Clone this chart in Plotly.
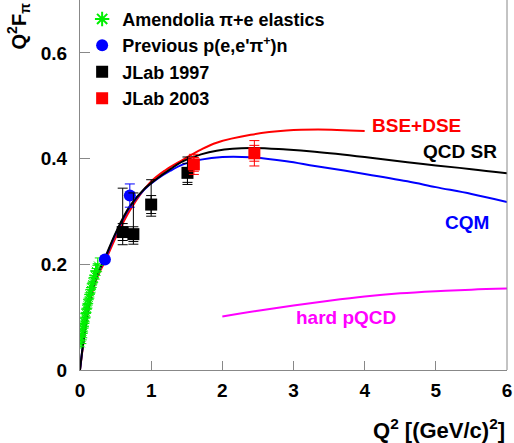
import plotly.graph_objects as go

# ---------------- data ----------------
amen_q2 = [0.014, 0.020, 0.026, 0.032, 0.038, 0.044, 0.050, 0.056, 0.062, 0.068,
           0.074, 0.080, 0.086, 0.092, 0.098, 0.104, 0.110, 0.118, 0.126, 0.134,
           0.142, 0.150, 0.160, 0.170, 0.180, 0.192, 0.205, 0.220, 0.235, 0.250]
amen_f = [0.050, 0.057, 0.061, 0.069, 0.072, 0.079, 0.082, 0.088, 0.091, 0.098,
          0.100, 0.107, 0.109, 0.115, 0.117, 0.123, 0.126, 0.133, 0.136, 0.143,
          0.146, 0.152, 0.156, 0.163, 0.166, 0.174, 0.179, 0.188, 0.186, 0.198]
amen_err = [0.006, 0.006, 0.006, 0.007, 0.007, 0.007, 0.007, 0.008, 0.008, 0.008,
            0.008, 0.008, 0.009, 0.009, 0.009, 0.009, 0.010, 0.010, 0.010, 0.010,
            0.011, 0.011, 0.011, 0.012, 0.012, 0.012, 0.013, 0.013, 0.014, 0.014]

prev_q2 = [0.35, 0.70]
prev_f = [0.209, 0.330]
prev_err = [0.004, 0.022]

j97_q2 = [0.60, 0.75, 1.00, 1.51]
j97_f = [0.261, 0.257, 0.313, 0.373]
j97_up = [0.083, 0.078, 0.047, 0.030]
j97_dn = [0.024, 0.019, 0.022, 0.022]
j97_stat = [0.016, 0.014, 0.017, 0.018]

j03_q2 = [1.60, 2.45]
j03_f = [0.389, 0.410]
j03_tot = [0.019, 0.024]
j03_stat = [0.013, 0.015]

bse_q2 = [0, 0.04, 0.10, 0.15, 0.25, 0.35, 0.50, 0.70, 0.98, 1.20, 1.45, 1.70, 1.92, 2.40, 2.90, 3.35, 4.00]
bse_f = [0, 0.043, 0.100, 0.135, 0.178, 0.205, 0.250, 0.302, 0.354, 0.378, 0.398, 0.417, 0.430, 0.445, 0.453, 0.455, 0.452]

qcd_q2 = [0, 0.04, 0.10, 0.15, 0.25, 0.35, 0.50, 0.70, 0.90, 1.07, 1.27, 1.45, 1.70, 1.92, 2.40, 2.90, 3.30, 4.00, 4.60, 5.00, 5.50, 6.00]
qcd_f = [0, 0.046, 0.106, 0.141, 0.184, 0.212, 0.259, 0.310, 0.342, 0.361, 0.380, 0.395, 0.408, 0.415, 0.420, 0.417, 0.413, 0.403, 0.393, 0.387, 0.380, 0.372]

cqm_q2 = [0, 0.04, 0.10, 0.15, 0.25, 0.35, 0.50, 0.70, 0.90, 1.07, 1.27, 1.45, 1.70, 2.00, 2.40, 2.90, 3.30, 4.00, 4.60, 5.00, 5.50, 6.00]
cqm_f = [0, 0.046, 0.105, 0.140, 0.183, 0.210, 0.257, 0.308, 0.341, 0.360, 0.377, 0.389, 0.398, 0.403, 0.4025, 0.395, 0.386, 0.371, 0.357, 0.346, 0.333, 0.318]

pqcd_q2 = [2.0, 2.5, 3.0, 3.5, 4.0, 4.5, 5.0, 5.5, 6.0]
pqcd_f = [0.101, 0.112, 0.122, 0.131, 0.139, 0.145, 0.149, 0.152, 0.154]

x_ticks = [0, 1, 2, 3, 4, 5, 6]
y_ticks = [0, 0.2, 0.4, 0.6]
y_tick_text = ["0", "0.2", "0.4", "0.6"]

FONT = "Liberation Sans, Arial, sans-serif"
RED = "#ff0000"
BLUE = "#0000ff"
GREEN = "#00ee00"
MAGENTA = "#ff00ff"

fig = go.Figure()

# theory curves
for xs, ys, col in [(pqcd_q2, pqcd_f, MAGENTA), (bse_q2, bse_f, RED),
                    (cqm_q2, cqm_f, BLUE), (qcd_q2, qcd_f, "black")]:
    fig.add_trace(go.Scatter(x=xs, y=ys, mode="lines", line=dict(color=col, width=2, shape="spline"),
                             showlegend=False, hoverinfo="skip"))

# Amendolia
fig.add_trace(go.Scatter(x=amen_q2, y=amen_f, mode="markers", name="<b>Amendolia π+e elastics</b>",
                         marker=dict(symbol="asterisk-open", size=9, line=dict(color=GREEN, width=1), color=GREEN),
                         error_y=dict(type="data", array=amen_err, color=GREEN, thickness=1, width=3)))
# previous
fig.add_trace(go.Scatter(x=prev_q2, y=prev_f, mode="markers", name="<b>Previous p(e,e'π<sup>+</sup>)n</b>",
                         marker=dict(symbol="circle", size=12, color=BLUE),
                         error_y=dict(type="data", array=prev_err, color=BLUE, thickness=1, width=5)))
# JLab 1997 total (thin lines)
fig.add_trace(go.Scatter(x=j97_q2, y=j97_f, mode="markers", name="<b>JLab 1997</b>",
                         marker=dict(symbol="square", size=12, color="black"),
                         error_y=dict(type="data", symmetric=False, array=j97_up, arrayminus=j97_dn,
                                      color="black", thickness=1, width=5)))
fig.add_trace(go.Scatter(x=j97_q2, y=j97_f, mode="markers", showlegend=False, hoverinfo="skip",
                         marker=dict(size=1, color="rgba(0,0,0,0)"),
                         error_y=dict(type="data", array=j97_stat, color="black", thickness=1, width=5)))
# JLab 2003
fig.add_trace(go.Scatter(x=j03_q2, y=j03_f, mode="markers", name="<b>JLab 2003</b>",
                         marker=dict(symbol="square", size=12, color=RED),
                         error_y=dict(type="data", array=j03_tot, color=RED, thickness=1, width=5)))
fig.add_trace(go.Scatter(x=j03_q2, y=j03_f, mode="markers", showlegend=False, hoverinfo="skip",
                         marker=dict(size=1, color="rgba(0,0,0,0)"),
                         error_y=dict(type="data", array=j03_stat, color=RED, thickness=1, width=5)))

lab = dict(family=FONT, size=19)
annotations = [
    dict(x=4.07, y=0.4635, xref="x", yref="y", text="<b>BSE+DSE</b>", showarrow=False,
         xanchor="left", yanchor="middle", font=dict(lab, color=RED)),
    dict(x=5.89, y=0.414, xref="x", yref="y", text="<b>QCD SR</b>", showarrow=False,
         xanchor="right", yanchor="middle", font=dict(lab, color="black")),
    dict(x=5.77, y=0.280, xref="x", yref="y", text="<b>CQM</b>", showarrow=False,
         xanchor="right", yanchor="middle", font=dict(lab, color=BLUE)),
    dict(x=3.01, y=0.100, xref="x", yref="y", text="<b>hard pQCD</b>", showarrow=False,
         xanchor="left", yanchor="middle", font=dict(lab, color=MAGENTA)),
    dict(x=1.0, y=-0.16, xref="paper", yref="paper", text="<b>Q<sup>2</sup> [(GeV/c)<sup>2</sup>]</b>",
         showarrow=False, xanchor="right", yanchor="middle", font=dict(family=FONT, size=22, color="black")),
    dict(x=-0.143, y=1.0, xref="paper", yref="paper", text="<b>Q<sup>2</sup>F<sub>π</sub></b>",
         showarrow=False, textangle=-90, xanchor="center", yanchor="top", font=dict(family=FONT, size=20, color="black")),
]

axis_common = dict(showgrid=False, zeroline=False, showline=True, linecolor="#888888", linewidth=1,
                   ticks="inside", tickcolor="#888888", tickwidth=1, mirror=False, automargin=False,
                   tickfont=dict(family=FONT, size=19, color="black"))

fig.update_layout(
    width=514, height=443,
    margin=dict(l=80, r=7, t=0, b=73),
    paper_bgcolor="white", plot_bgcolor="white",
    showlegend=True,
    legend=dict(x=0.005, y=0.998, xanchor="left", yanchor="top", bgcolor="rgba(0,0,0,0)",
                font=dict(family=FONT, size=18, color="black"), itemsizing="constant",
                tracegroupgap=0),
    annotations=annotations,
    xaxis=dict(axis_common, range=[0, 6], tickvals=x_ticks, ticktext=[f"<b>{v}</b>" for v in x_ticks],
               ticklen=9, ticklabelstandoff=3),
    yaxis=dict(axis_common, range=[0, 0.7], tickvals=y_ticks, ticktext=[f"<b>{t}</b>" for t in y_tick_text],
               ticklen=10, ticklabelstandoff=8),
)
# right frame line
fig.add_shape(type="line", xref="paper", yref="paper", x0=1, x1=1, y0=0, y1=1,
              line=dict(color="#888888", width=1))

fig.write_html("out.html", config={"displayModeBar": False},
               post_script="document.body.style.margin='0';document.body.style.overflow='hidden';")
